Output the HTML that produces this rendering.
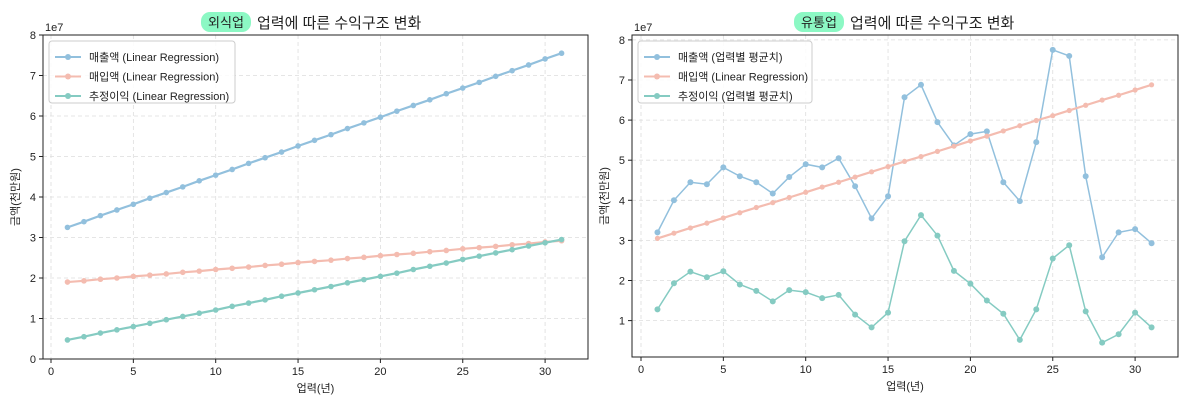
<!DOCTYPE html>
<html><head><meta charset="utf-8">
<style>
body{margin:0;background:#fff;}
svg text{font-family:"Liberation Sans","Noto Sans CJK KR",sans-serif;fill:#222;}
</style></head>
<body>
<svg id="chart" width="1200" height="402" viewBox="0 0 1200 402" xmlns="http://www.w3.org/2000/svg"></svg>
<script>
const years = [1,2,3,4,5,6,7,8,9,10,11,12,13,14,15,16,17,18,19,20,21,22,23,24,25,26,27,28,29,30,31];
const leftSales = [3.25,3.39,3.54,3.68,3.82,3.97,4.11,4.25,4.40,4.54,4.68,4.83,4.97,5.11,5.26,5.40,5.54,5.69,5.83,5.97,6.12,6.26,6.40,6.55,6.69,6.83,6.98,7.12,7.26,7.41,7.55];
const leftCost = [1.90,1.93,1.97,2.00,2.04,2.07,2.10,2.14,2.17,2.21,2.24,2.27,2.31,2.34,2.38,2.41,2.44,2.48,2.51,2.55,2.58,2.61,2.65,2.68,2.72,2.75,2.78,2.82,2.85,2.89,2.92];
const leftProfit = [0.47,0.55,0.64,0.72,0.80,0.88,0.97,1.05,1.13,1.21,1.30,1.38,1.46,1.55,1.63,1.71,1.79,1.88,1.96,2.04,2.12,2.21,2.29,2.37,2.46,2.54,2.62,2.70,2.79,2.87,2.95];
const rightSales = [3.2,4.0,4.45,4.4,4.82,4.6,4.45,4.17,4.58,4.9,4.82,5.05,4.35,3.55,4.1,6.57,6.88,5.95,5.37,5.65,5.72,4.45,3.98,5.45,7.75,7.6,4.6,2.58,3.2,3.28,2.93];
const rightCost = [3.05,3.18,3.31,3.43,3.56,3.69,3.82,3.94,4.07,4.20,4.33,4.45,4.58,4.71,4.84,4.97,5.09,5.22,5.35,5.48,5.60,5.73,5.86,5.99,6.11,6.24,6.37,6.50,6.62,6.75,6.88];
const rightProfit = [1.28,1.93,2.22,2.08,2.23,1.9,1.74,1.48,1.76,1.71,1.56,1.64,1.15,0.83,1.2,2.98,3.63,3.12,2.24,1.92,1.5,1.17,0.52,1.28,2.55,2.88,1.23,0.45,0.66,1.2,0.83];
const xTicks = [0,5,10,15,20,25,30];
const leftYTicks = [0,1,2,3,4,5,6,7,8];
const rightYTicks = [1,2,3,4,5,6,7,8];
const leftLegend = ["매출액 (Linear Regression)","매입액 (Linear Regression)","추정이익 (Linear Regression)"];
const rightLegend = ["매출액 (업력별 평균치)","매입액 (Linear Regression)","추정이익 (업력별 평균치)"];

const svg = document.getElementById('chart');
const NS = 'http://www.w3.org/2000/svg';
function mk(tag, attrs, parent){const e=document.createElementNS(NS,tag);for(const k in attrs)e.setAttribute(k,attrs[k]);(parent||svg).appendChild(e);return e;}
const COLORS = ['#92c0dd','#f4bcb0','#85cbc2'];

function panel(cfg){
  const g = mk('g',{});
  
  
  const X = v => cfg.x0 + (v - 0) * cfg.xs;
  const Y = v => cfg.y0 - v * cfg.ys;
  // grid
  xTicks.forEach(t=>{
    const l=mk('line',{x1:X(t),x2:X(t),y1:cfg.top,y2:cfg.bottom,stroke:'#ddd','stroke-dasharray':'4,3','stroke-width':0.8},g);
    
    
    const tk=mk('line',{x1:X(t),x2:X(t),y1:cfg.bottom,y2:cfg.bottom+4,stroke:'#222'},g);
    
    
    const tx=mk('text',{x:X(t),y:cfg.bottom+16,'text-anchor':'middle','font-size':11},g);
    tx.textContent=t;
    
    
  });
  cfg.yTicks.forEach(t=>{
    const l=mk('line',{x1:cfg.left,x2:cfg.right,y1:Y(t),y2:Y(t),stroke:'#ddd','stroke-dasharray':'4,3','stroke-width':0.8},g);
    
    
    const tk=mk('line',{x1:cfg.left-4,x2:cfg.left,y1:Y(t),y2:Y(t),stroke:'#222'},g);
    
    
    const tx=mk('text',{x:cfg.left-7,y:Y(t)+4,'text-anchor':'end','font-size':11},g);
    tx.textContent=t;
    
    
  });
  const frame=mk('rect',{x:cfg.left,y:cfg.top,width:cfg.right-cfg.left,height:cfg.bottom-cfg.top,fill:'none',stroke:'#222','stroke-width':1},g);
  
  
  const exp=mk('text',{x:cfg.left+2,y:cfg.top-4,'font-size':11},g);
  exp.textContent='1e7';
  
  
  // series
  cfg.series.forEach((s,si)=>{
    const sg=mk('g',{},g);
    
    
    const pts=years.map((yr,i)=>X(yr)+','+Y(s.data[i])).join(' ');
    const pl=mk('polyline',{points:pts,fill:'none',stroke:COLORS[si],'stroke-width':s.w},sg);
    
    
    years.forEach((yr,i)=>{
      const c=mk('circle',{cx:X(yr),cy:Y(s.data[i]),r:s.r,fill:COLORS[si]},sg);
      
      
    });
  });
  // legend
  const lg=mk('g',{},g);
  
  
  const lr=mk('rect',{x:cfg.left+6,y:cfg.top+6,width:cfg.legW,height:62,rx:3,fill:'rgba(255,255,255,0.85)',stroke:'#ccc'},lg);
  
  
  cfg.legend.forEach((txt,i)=>{
    const yy=cfg.top+22+i*19.5;
    const ln=mk('line',{x1:cfg.left+12,x2:cfg.left+38,y1:yy,y2:yy,stroke:COLORS[i],'stroke-width':2},lg);
    
    
    const lc=mk('circle',{cx:cfg.left+25,cy:yy,r:3,fill:COLORS[i]},lg);
    
    
    const lt=mk('text',{x:cfg.left+46,y:yy+4,'font-size':11},lg);
    lt.textContent=txt;
    
    
  });
  // axis titles
  const xt=mk('text',{x:(cfg.left+cfg.right)/2,y:cfg.bottom+33,'text-anchor':'middle','font-size':11},g);
  xt.textContent='업력(년)';
  
  
  const yt=mk('text',{x:0,y:0,'text-anchor':'middle','font-size':11,transform:`translate(${cfg.left-24},${(cfg.top+cfg.bottom)/2}) rotate(-90)`},g);
  yt.textContent='금액(천만원)';
  
  
  // title
  const br=mk('rect',{x:cfg.badgeX,y:12,width:50,height:20,rx:9,fill:'#8cf8c4'},g);
  
  
  const bt=mk('text',{x:cfg.badgeX+25,y:27,'text-anchor':'middle','font-size':13},g);
  bt.textContent=cfg.badge;
  
  
  const tt=mk('text',{x:cfg.badgeX+56,y:28,'font-size':15},g);
  tt.textContent='업력에 따른 수익구조 변화';
  
  
}

panel({name:'left-panel-food-service',left:43,right:588,top:35,bottom:359,x0:51,xs:16.47,y0:359,ys:40.5,
  yTicks:leftYTicks,legend:leftLegend,legW:186,badge:'외식업',badgeX:201,
  series:[{key:'sales',data:leftSales,w:2.2,r:2.8},{key:'cost',data:leftCost,w:2.2,r:2.8},{key:'profit',data:leftProfit,w:2.2,r:2.8}]});
panel({name:'right-panel-retail',left:632,right:1178,top:35,bottom:357,x0:641,xs:16.47,y0:360.7,ys:40.1,
  yTicks:rightYTicks,legend:rightLegend,legW:174,badge:'유통업',badgeX:794,
  series:[{key:'sales',data:rightSales,w:1.5,r:3},{key:'cost',data:rightCost,w:2.2,r:2.6},{key:'profit',data:rightProfit,w:1.5,r:3}]});
</script>
</body></html>
